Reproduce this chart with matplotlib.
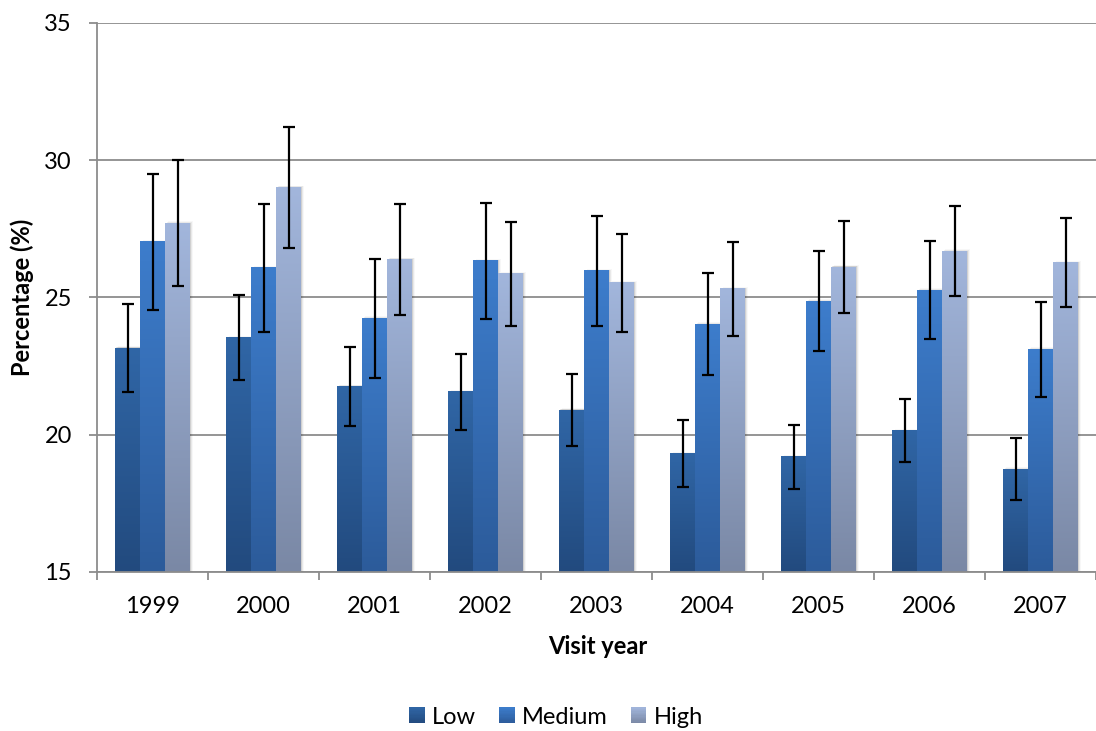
import numpy as np
import matplotlib
matplotlib.use('Agg')
import matplotlib.pyplot as plt
from matplotlib.colors import to_rgb
from matplotlib.patches import Rectangle
from matplotlib.legend_handler import HandlerBase

# ---------------- data ----------------
years = ['1999', '2000', '2001', '2002', '2003', '2004', '2005', '2006', '2007']
series_names = ['Low', 'Medium', 'High']
low = [23.16, 23.53, 21.77, 21.56, 20.90, 19.30, 19.19, 20.14, 18.75]
low_err = [1.61, 1.55, 1.44, 1.37, 1.30, 1.22, 1.18, 1.15, 1.12]
medium = [27.03, 26.08, 24.25, 26.33, 25.97, 24.03, 24.87, 25.27, 23.12]
medium_err = [2.47, 2.32, 2.17, 2.10, 2.01, 1.87, 1.81, 1.78, 1.73]
high = [27.71, 29.02, 26.39, 25.86, 25.53, 25.31, 26.11, 26.69, 26.26]
high_err = [2.29, 2.20, 2.02, 1.90, 1.80, 1.72, 1.68, 1.64, 1.62]
y_ticks = [15, 20, 25, 30, 35]
x_label = 'Visit year'
y_label = 'Percentage (%)'

# ---------------- style ----------------
plt.rcParams['font.family'] = ['Lato', 'DejaVu Sans']
YMIN, YMAX = 15, 35
grad_colors = {  # (top, bottom)
    'Low': ('#3066a6', '#224a7e'),
    'Medium': ('#3d7dcc', '#2c5b9a'),
    'High': ('#a2b6dc', '#7a88a5'),
}
grid_col = '#8c8c8c'

W, H = 1096, 731
fig = plt.figure(figsize=(W / 100, H / 100), dpi=100)
ax = fig.add_axes([97 / W, 1 - 572 / H, 999 / W, (572 - 23) / H])

x = np.arange(len(years))
bw = 25 / 111
values = [low, medium, high]
errors = [low_err, medium_err, high_err]


def grad_array(top, bottom, n=256):
    t = np.linspace(0, 1, n)[:, None]
    a = np.array(to_rgb(bottom))[None, :]
    b = np.array(to_rgb(top))[None, :]
    return (a * (1 - t) + b * t)[:, None, :]


for i, (name, vals, errs) in enumerate(zip(series_names, values, errors)):
    pos = x + (i - 1) * bw
    bars = ax.bar(pos, np.array(vals) - YMIN, bottom=YMIN, width=bw,
                  color='none', edgecolor='none', zorder=2)
    top, bottom = grad_colors[name]
    img = grad_array(top, bottom)
    for r in bars.patches:
        x0 = r.get_x()
        y0 = r.get_y()
        # soft shadow
        for k, a in enumerate([0.10, 0.06, 0.03]):
            ax.add_patch(Rectangle((x0 + (k + 1) * 0.008, y0), r.get_width(),
                                   r.get_height() + 0.02 * (k + 1),
                                   facecolor='#000000', alpha=a,
                                   edgecolor='none', zorder=1.5))
        ax.imshow(img, extent=[x0, x0 + r.get_width(), y0, y0 + r.get_height()],
                  origin='lower', aspect='auto', zorder=2.2, interpolation='bilinear')
    ax.errorbar(pos, vals, yerr=errs, fmt='none', ecolor='black',
                elinewidth=1.6, capsize=4.5, capthick=1.6, zorder=4)

ax.set_xlim(-0.5, len(years) - 0.5)
ax.set_ylim(YMIN, YMAX)
ax.set_yticks(y_ticks)
ax.set_yticklabels([str(v) for v in y_ticks])
ax.set_xticks(x)
ax.set_xticklabels(years)
ax.set_xticks(np.arange(len(years) + 1) - 0.5, minor=True)

ax.yaxis.grid(True, color=grid_col, linewidth=1.3, zorder=0)
ax.set_axisbelow(True)
for s in ['top', 'right']:
    ax.spines[s].set_visible(False)
for s in ['left', 'bottom']:
    ax.spines[s].set_color(grid_col)
    ax.spines[s].set_linewidth(1.3)

ax.tick_params(axis='y', length=6, width=1.3, color=grid_col, labelsize=17, pad=12)
ax.tick_params(axis='x', which='major', length=0, labelsize=17, pad=17)
ax.tick_params(axis='x', which='minor', length=6, width=1.3, color=grid_col)

fig.text(22 / W, 1 - 297.5 / H, y_label, rotation=90, ha='center', va='center',
         fontsize=17, fontweight='bold')
fig.text(598 / W, 1 - 647 / H, x_label, ha='center', va='center',
         fontsize=17, fontweight='bold')


class GradHandler(HandlerBase):
    def __init__(self, top, bottom):
        super().__init__()
        self.top, self.bottom = top, bottom

    def create_artists(self, legend, orig_handle, xdescent, ydescent, width,
                       height, fontsize, trans):
        n = 12
        arts = []
        t0, b0 = np.array(to_rgb(self.top)), np.array(to_rgb(self.bottom))
        for k in range(n):
            f = (k + 0.5) / n
            c = b0 * (1 - f) + t0 * f
            arts.append(Rectangle((-xdescent, -ydescent + k * height / n), width,
                                  height / n + 0.3, facecolor=c, edgecolor='none',
                                  transform=trans))
        return arts


handles = [Rectangle((0, 0), 1, 1) for _ in series_names]
hmap = {h: GradHandler(*grad_colors[n]) for h, n in zip(handles, series_names)}
fig.legend(handles, series_names, loc='center', bbox_to_anchor=(556 / W, 1 - 717 / H),
           ncol=3, frameon=False, fontsize=17, handlelength=0.65, handleheight=0.65,
           handletextpad=0.3, columnspacing=1.0, handler_map=hmap)

fig.savefig('out.png', dpi=100)
